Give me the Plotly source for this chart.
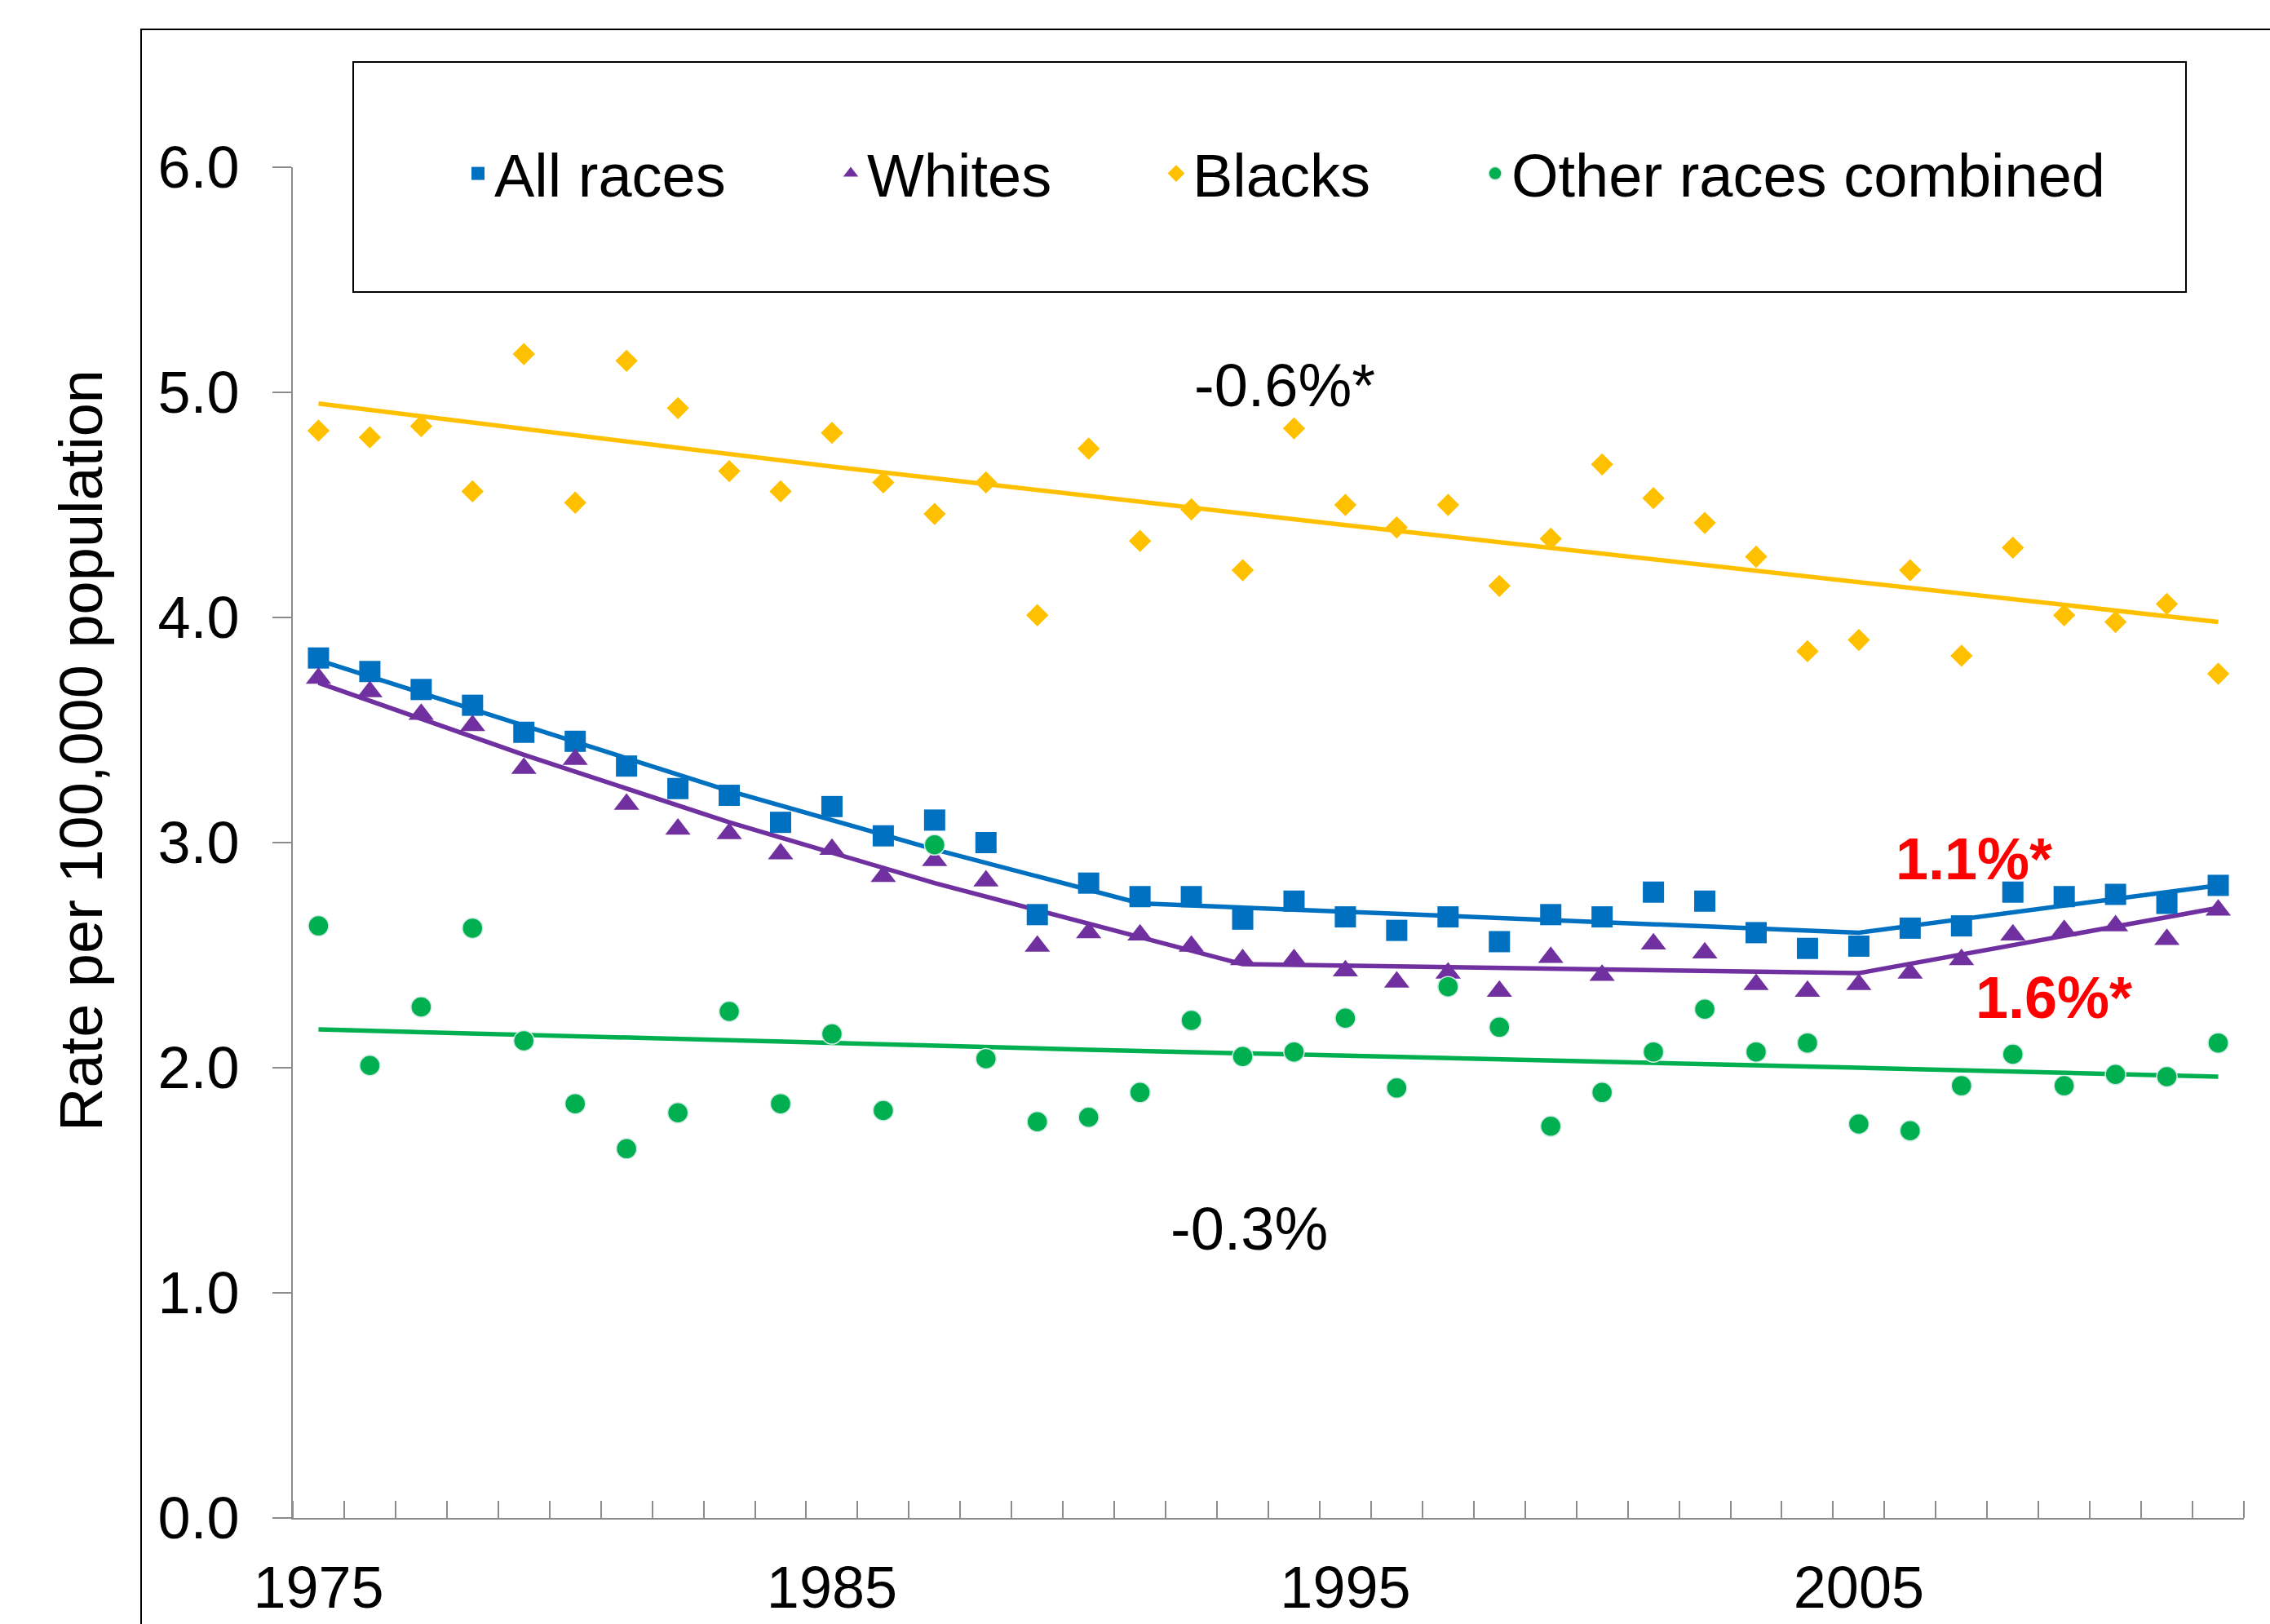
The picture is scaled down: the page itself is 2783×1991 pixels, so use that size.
import plotly.graph_objects as go

years = list(range(1975, 2013))

all_races = [3.82, 3.76, 3.68, 3.61, 3.49, 3.45, 3.34, 3.24, 3.21, 3.09,
             3.16, 3.03, 3.10, 3.00, 2.68, 2.82, 2.76, 2.76, 2.66, 2.74,
             2.67, 2.61, 2.67, 2.56, 2.68, 2.67, 2.78, 2.74, 2.60, 2.53,
             2.54, 2.62, 2.63, 2.78, 2.76, 2.77, 2.73, 2.81]
whites = [3.73, 3.67, 3.57, 3.52, 3.33, 3.37, 3.17, 3.06, 3.04, 2.95,
          2.97, 2.85, 2.92, 2.83, 2.54, 2.60, 2.59, 2.54, 2.48, 2.48,
          2.43, 2.38, 2.42, 2.34, 2.49, 2.41, 2.55, 2.51, 2.37, 2.34,
          2.37, 2.42, 2.48, 2.59, 2.61, 2.63, 2.57, 2.70]
blacks = [4.83, 4.80, 4.85, 4.56, 5.17, 4.51, 5.14, 4.93, 4.65, 4.56,
          4.82, 4.60, 4.46, 4.60, 4.01, 4.75, 4.34, 4.48, 4.21, 4.84,
          4.50, 4.40, 4.50, 4.14, 4.35, 4.68, 4.53, 4.42, 4.27, 3.85,
          3.90, 4.21, 3.83, 4.31, 4.01, 3.98, 4.06, 3.75]
others = [2.63, 2.01, 2.27, 2.62, 2.12, 1.84, 1.64, 1.80, 2.25, 1.84,
          2.15, 1.81, 2.99, 2.04, 1.76, 1.78, 1.89, 2.21, 2.05, 2.07,
          2.22, 1.91, 2.36, 2.18, 1.74, 1.89, 2.07, 2.26, 2.07, 2.11,
          1.75, 1.72, 1.92, 2.06, 1.92, 1.97, 1.96, 2.11]

# Joinpoint trend lines (knots)
all_trend_years = [1975, 1979, 1983, 1987, 1991, 2005, 2012]
all_trend_vals = [3.81, 3.52, 3.23, 2.97, 2.73, 2.60, 2.81]
white_trend_years = [1975, 1979, 1983, 1987, 1993, 2005, 2012]
white_trend_vals = [3.71, 3.39, 3.09, 2.82, 2.46, 2.42, 2.71]
black_trend_years = [1975, 1985, 1995, 2005, 2012]
black_trend_vals = [4.95, 4.67, 4.41, 4.16, 3.98]
other_trend_years = [1975, 1990, 2005, 2012]
other_trend_vals = [2.17, 2.08, 2.00, 1.96]

series_names = ["All races", "Whites", "Blacks", "Other races combined"]
x_tick_vals = [1975, 1985, 1995, 2005]
x_tick_text = ["1975", "1985", "1995", "2005"]

FONT = "Liberation Sans, Arial, sans-serif"
BLUE = "#0070C0"
PURPLE = "#7030A0"
GOLD = "#FFC000"
GREEN = "#00B050"
AXIS = "#8C8C8C"

fig = go.Figure()

for ty, tv, col in [(all_trend_years, all_trend_vals, BLUE),
                    (white_trend_years, white_trend_vals, PURPLE),
                    (black_trend_years, black_trend_vals, GOLD),
                    (other_trend_years, other_trend_vals, GREEN)]:
    fig.add_trace(go.Scatter(x=ty, y=tv, mode="lines",
                             line=dict(color=col, width=5.5),
                             showlegend=False, hoverinfo="skip"))

marker_specs = [
    (all_races, series_names[0], BLUE, "square", 26, "legend", 0),
    (whites, series_names[1], PURPLE, "triangle-up", 27, "legend2", 0),
    (blacks, series_names[2], GOLD, "diamond", 21, "legend3", 0),
    (others, series_names[3], GREEN, "circle", 25, "legend4", 1.5),
]
for vals, name, col, sym, sz, leg, lw in marker_specs:
    fig.add_trace(go.Scatter(x=years, y=vals, mode="markers", name=name,
                             marker=dict(color=col, symbol=sym, size=sz,
                                         line=dict(width=lw, color="#D3EBE6")),
                             legend=leg))

L, R, T, B = 359, 32, 205, 130
W, H = 2783, 1991
pw = W - L - R
ph = H - T - B

def px_x(p):
    return (p - L) / pw

def px_y(p):
    return (H - B - p) / ph

leg_common = dict(orientation="h", yanchor="middle", xanchor="left",
                  y=px_y(213), bgcolor="rgba(0,0,0,0)", borderwidth=0,
                  font=dict(family=FONT, size=74, color="black"))

fig.update_layout(
    width=W, height=H,
    margin=dict(l=L, r=R, t=T, b=B, pad=0, autoexpand=False),
    paper_bgcolor="white", plot_bgcolor="white",
    font=dict(family=FONT, size=72, color="black"),
    legend=dict(x=px_x(566), **leg_common),
    legend2=dict(x=px_x(1023), **leg_common),
    legend3=dict(x=px_x(1422), **leg_common),
    legend4=dict(x=px_x(1813), **leg_common),
    xaxis=dict(range=[1974.5, 2012.5], showgrid=False, zeroline=False,
               automargin=False,
               showline=True, linecolor=AXIS, linewidth=2,
               tickmode="array", tickvals=x_tick_vals, ticktext=x_tick_text,
               ticks="", ticklabelstandoff=22,
               tickfont=dict(family=FONT, size=72, color="black"),
               minor=dict(tick0=1975.5, dtick=1, ticks="inside",
                          ticklen=21, tickwidth=2, tickcolor=AXIS)),
    yaxis=dict(range=[0, 6], showgrid=False, zeroline=False,
               automargin=False,
               showline=True, linecolor=AXIS, linewidth=2,
               dtick=1, tick0=0, tickformat=".1f",
               ticks="outside", ticklen=23, tickwidth=2, tickcolor=AXIS,
               ticklabelstandoff=26,
               tickfont=dict(family=FONT, size=72, color="black")),
    showlegend=True,
)

# outer chart-area frame and legend box
fig.add_shape(type="rect", xref="paper", yref="paper",
              x0=px_x(173), x1=1.05, y0=-0.2, y1=px_y(36),
              line=dict(color="black", width=2), fillcolor="rgba(0,0,0,0)",
              layer="below")
fig.add_shape(type="rect", xref="paper", yref="paper",
              x0=px_x(433), x1=px_x(2680), y0=px_y(358), y1=px_y(76),
              line=dict(color="black", width=2), fillcolor="rgba(0,0,0,0)",
              layer="below")

fig.add_annotation(text="Rate per 100,000 population", textangle=-90,
                   xref="paper", yref="paper", x=px_x(99), y=px_y(920),
                   xanchor="center", yanchor="middle", showarrow=False,
                   font=dict(family=FONT, size=74, color="black"))

annos = [
    ("-0.6%*", 1993.82, 5.03, "black", 74, False),
    ("-0.3%", 1993.12, 1.285, "black", 74, False),
    ("1.1%*", 2007.24, 2.928, "#FF0000", 72, True),
    ("1.6%*", 2008.80, 2.313, "#FF0000", 72, True),
]
for txt, ax, ay, col, sz, bold in annos:
    fig.add_annotation(text=f"<b>{txt}</b>" if bold else txt, x=ax, y=ay,
                       xref="x", yref="y", showarrow=False,
                       xanchor="center", yanchor="middle",
                       font=dict(family=FONT, size=sz, color=col))

fig.write_html("out.html")
